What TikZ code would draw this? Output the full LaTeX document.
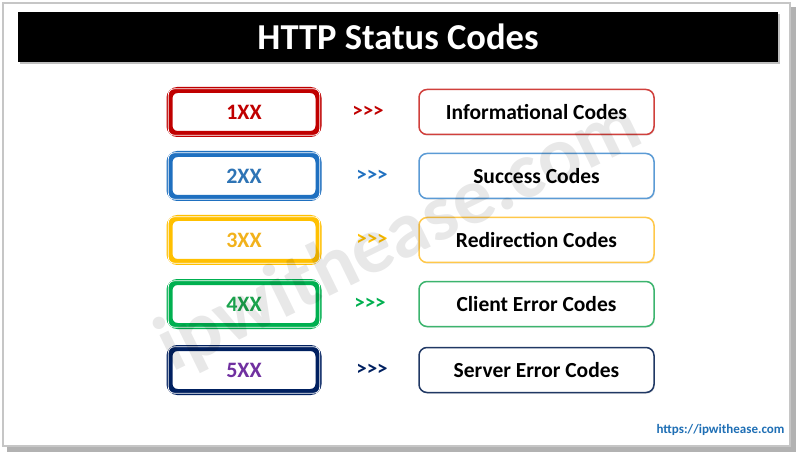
\documentclass[tikz,border=0pt]{standalone}
\usepackage{fontspec}
\setmainfont{Carlito}
\usetikzlibrary{shadows}
\definecolor{cRed}{HTML}{C00000}
\definecolor{cRedR}{HTML}{D0403C}
\definecolor{cBlue}{HTML}{1F70C0}
\definecolor{cBlueT}{HTML}{2E74B5}
\definecolor{cBlueR}{HTML}{5B9BD5}
\definecolor{cGold}{HTML}{FFC000}
\definecolor{cGoldT}{HTML}{F2B21B}
\definecolor{cGoldR}{HTML}{FFC84A}
\definecolor{cGreen}{HTML}{00B050}
\definecolor{cGreenT}{HTML}{1BA34D}
\definecolor{cGreenR}{HTML}{3CB46E}
\definecolor{cNavy}{HTML}{002060}
\definecolor{cPurple}{HTML}{7030A0}
\definecolor{cNavyR}{HTML}{203864}
\definecolor{cUrl}{HTML}{1F6FB5}
\tikzset{
  codebox/.style={draw=#1, line width=6pt, fill=white, rounded corners=8pt,
    minimum width=149pt, minimum height=44pt, inner sep=0pt,
    font=\fontsize{22}{26}\selectfont\bfseries,
    drop shadow={shadow xshift=1.2pt, shadow yshift=-1.8pt, opacity=0.35}},
  innerline/.style={draw=white, line width=0.8pt, rounded corners=6pt},
  descbox/.style={draw=#1, line width=1.5pt, fill=white, rounded corners=8pt,
    minimum width=235pt, minimum height=45pt, inner sep=0pt,
    font=\fontsize{21.5}{26}\selectfont\bfseries,
    drop shadow={shadow xshift=0.8pt, shadow yshift=-1.2pt, opacity=0.2}},
  arrowtxt/.style={text=#1, font=\fontsize{21}{25}\selectfont\bfseries, inner sep=0pt},
}
\begin{document}
\begin{tikzpicture}[x=1pt,y=-1pt]
\useasboundingbox (0,0) rectangle (800,454);
% outer frame
\fill[gray!60] (7,7) rectangle (796,452);
\filldraw[fill=white, draw=gray!45, line width=1.5pt] (3,3) rectangle (790,446);
% title bar
\fill[gray!50] (20,14) rectangle (780,64);
\node[fill=black, minimum width=760pt, minimum height=50pt, inner sep=0pt,
  text=white, font=\fontsize{36.5}{42}\selectfont\bfseries] (title) at (398,37) {HTTP Status Codes};
% rows
\foreach \y/\n/\bc/\tc/\rc/\lab/\desc/\ax in {
  112/1/cRed/cRed/cRedR/1XX/Informational Codes/368,
  176/2/cBlue/cBlueT/cBlueR/2XX/Success Codes/372,
  240/3/cGold/cGoldT/cGoldR/3XX/Redirection Codes/372,
  304/4/cGreen/cGreenT/cGreenR/4XX/Client Error Codes/370,
  370/5/cNavy/cPurple/cNavyR/5XX/Server Error Codes/372}{
  \node[codebox=\bc, text=\tc] (code\n) at (244,\y) {\lab};
  \draw[innerline] ([xshift=1.8pt,yshift=-1.8pt]code\n.north west) rectangle ([xshift=-1.8pt,yshift=1.8pt]code\n.south east);
  \node[arrowtxt=\bc] (arr\n) at (\ax,\y) {>{}>{}>};
  \node[descbox=\rc] (desc\n) at (536.5,\y) {\desc};
}
% url
\node[text=cUrl, font=\fontsize{13}{15}\selectfont\bfseries, inner sep=0pt] (url) at (720.5,430) {https://ipwithease.com};
% watermark
\node[text=black, opacity=0.09, rotate=26, font=\fontsize{80}{90}\selectfont\bfseries, inner sep=0pt] (wm) at (400,238) {ipwithease.com};
\end{tikzpicture}
\end{document}
